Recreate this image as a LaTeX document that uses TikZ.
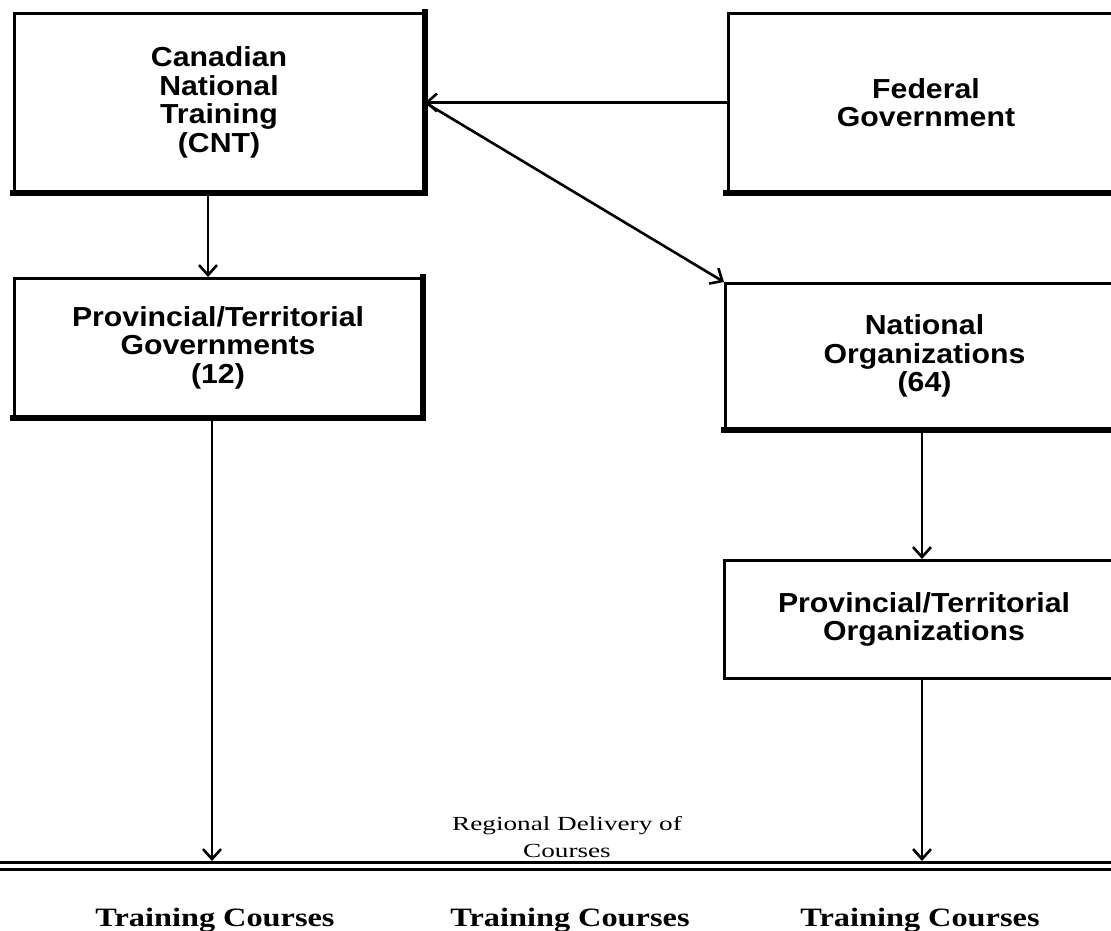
\documentclass[tikz,border=0pt]{standalone}
\usepackage{fontspec}
\setmainfont{Liberation Serif}
\newfontfamily\boxfont[FakeStretch=1.1]{Liberation Sans}
\newfontfamily\regfont[FakeStretch=1.36]{Liberation Serif}
\newfontfamily\tcfont[FakeStretch=1.22]{Liberation Serif}
\usetikzlibrary{arrows.meta}
\tikzset{
  boxnode/.style={draw, line width=3pt, rectangle, inner sep=0pt, align=center,
    font=\boxfont\bfseries\fontsize{27.5}{28.5}\selectfont},
  shade edge/.style={line width=6.5pt, line cap=rect},
  conn/.style={line width=2.6pt, -{Straight Barb[length=10pt,width=18pt,line width=2.6pt]}},
  tclabel/.style={font=\tcfont\bfseries\fontsize{26.5}{28}\selectfont, anchor=base},
  reglabel/.style={font=\regfont\fontsize{20}{27}\selectfont, align=center}
}
\begin{document}
\begin{tikzpicture}[x=1pt,y=-1pt]
\useasboundingbox (0,0) rectangle (1111,931);
\clip (0,0) rectangle (1111,931);
\fill[white] (0,0) rectangle (1111,931);

% boxes
\node[boxnode, minimum width=409pt, minimum height=178pt] (cnt) at (219,102.5)
  {Canadian\\National\\Training\\(CNT)};
\node[boxnode, minimum width=407pt, minimum height=138pt] (pg) at (218,347.5)
  {Provincial/Territorial\\Governments\\(12)};
\node[boxnode, minimum width=396pt, minimum height=178pt] (fed) at (926,102.5)
  {Federal\\Government};
\node[boxnode, minimum width=398pt, minimum height=145pt] (no) at (924.5,356)
  {National\\Organizations\\(64)};
\node[boxnode, minimum width=399pt, minimum height=118pt] (pto) at (924,619.5)
  {Provincial/Territorial\\Organizations};

% heavier right and bottom edges
\draw[shade edge] (cnt.north east) -- (cnt.south east) -- (cnt.south west);
\draw[shade edge] (pg.north east) -- (pg.south east) -- (pg.south west);
\draw[shade edge] (fed.south east) -- (fed.south west);
\draw[shade edge] (no.south east) -- (no.south west);

% x positions of vertical connectors and the delivery line
\coordinate (xa) at (208,0);
\coordinate (xb) at (212,0);
\coordinate (xc) at (922,0);
\coordinate (lineL) at (0,865.5);
\coordinate (lineR) at (1111,865.5);
\coordinate (tipL) at (212,861);
\coordinate (tipR) at (922,861);

% double delivery line
\draw[line width=3pt, double distance=4pt] (lineL) -- (lineR);

% connectors
\draw[conn] (fed.west) -- (cnt.east);
\draw[conn] (cnt.east) -- (no.north west);
\draw[conn] (cnt.south -| xa) -- (pg.north -| xa);
\draw[conn] (pg.south -| xb) -- (tipL);
\draw[conn] (no.south -| xc) -- (pto.north -| xc);
\draw[conn] (pto.south -| xc) -- (tipR);

% texts
\node[reglabel] (reg) at (567,837) {Regional Delivery of\\Courses};
\node[tclabel] (tc1) at (215,926) {Training Courses};
\node[tclabel] (tc2) at (570,926) {Training Courses};
\node[tclabel] (tc3) at (920,926) {Training Courses};
\end{tikzpicture}
\end{document}
